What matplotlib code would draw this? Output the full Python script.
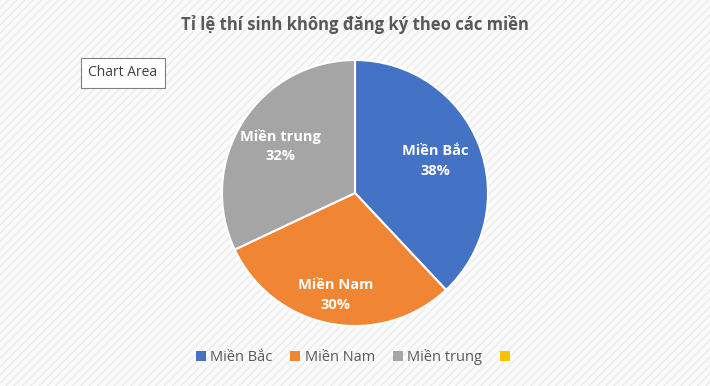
import numpy as np
import matplotlib.pyplot as plt
from matplotlib.patches import Rectangle

regions = ["Miền Bắc", "Miền Nam", "Miền trung", ""]
shares = [38, 30, 32, 0]
colors = ["#4472c4", "#f08533", "#a5a5a5", "#ffc000"]
# how far out each data label sits (fraction of radius), as Excel placed them
label_dist = [0.65, 0.78, 0.66]

plt.rcParams["font.family"] = ["Open Sans", "DejaVu Sans"]

fig = plt.figure(figsize=(7.1, 3.86), dpi=100)
fig.patch.set_facecolor("#ffffff")

# striped background like the screenshot
bg = Rectangle((0, 0), 1, 1, transform=fig.transFigure, facecolor="#fbfbfb",
               edgecolor="#ececec", hatch="////", linewidth=0, zorder=-10)
fig.patches.append(bg)

W, H = 710, 386
cx, cy, r = 355, 193, 133
ax = fig.add_axes([(cx - r) / W, (H - cy - r) / H, 2 * r / W, 2 * r / H])
ax.set_facecolor("none")

vals = [v for v in shares if v > 0]
wedges, _ = ax.pie(vals, colors=colors[:len(vals)], startangle=90, counterclock=False,
                   wedgeprops=dict(edgecolor="white", linewidth=1.5))
ax.set_xlim(-1, 1)
ax.set_ylim(-1, 1)
ax.set_aspect("auto")

start = 90.0
for name, v, d in zip(regions, vals, label_dist):
    mid = np.deg2rad(start - v / 100 * 360 / 2)
    start -= v / 100 * 360
    x, y = d * np.cos(mid), d * np.sin(mid)
    ax.text(x, y, f"{name}\n{v}%", ha="center", va="center", color="white",
            fontsize=10.5, fontweight="bold", linespacing=1.5)

fig.text(0.5, 1 - 24 / H, "Tỉ lệ thí sinh không đăng ký theo các miền", ha="center",
         va="center", fontsize=12, fontweight="bold", color="#595959")

fig.text(123 / W, 1 - 73 / H, "Chart Area", ha="center", va="center", fontsize=10,
         color="#404040",
         bbox=dict(boxstyle="square,pad=0.55", facecolor="white", edgecolor="#7f7f7f",
                   linewidth=0.8))

handles = [Rectangle((0, 0), 1, 1, facecolor=c) for c in colors]
fig.legend(handles, regions, loc="center", bbox_to_anchor=(355 / W, 1 - 357 / H),
           ncol=4, frameon=False, fontsize=10.5, handlelength=0.7, handleheight=0.7,
           handletextpad=0.3, columnspacing=1.2, labelcolor="#595959")

fig.savefig("out.png", dpi=100)
